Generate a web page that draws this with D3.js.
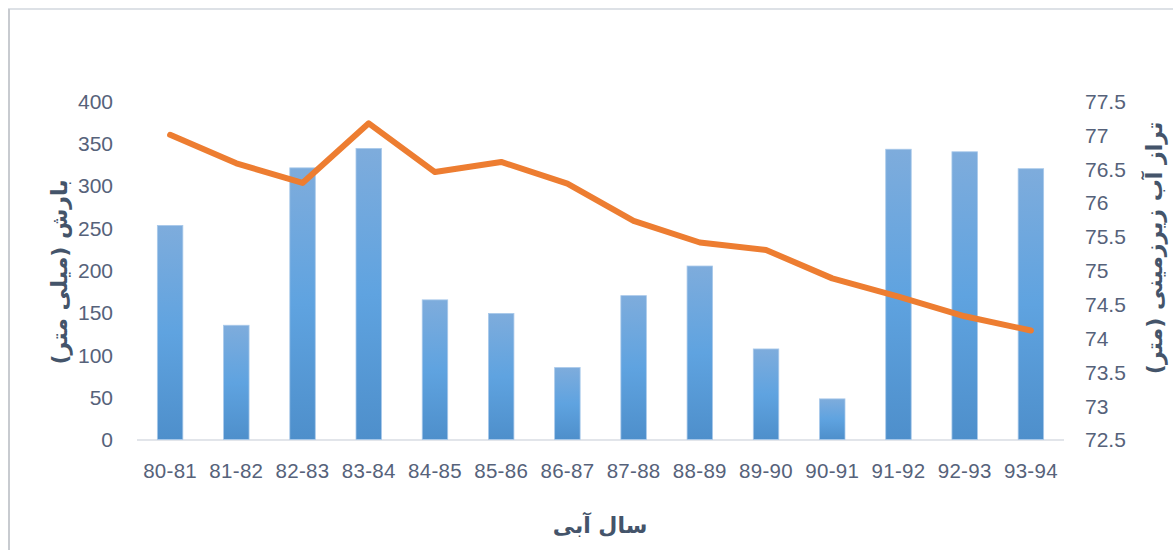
<!DOCTYPE html>
<html><head><meta charset="utf-8">
<script src="https://cdn.jsdelivr.net/npm/d3@7"></script>
<style>html,body{margin:0;padding:0;background:#fff;}svg{display:block;}</style>
</head><body>
<svg id="c" width="1173" height="550"></svg>
<script>
const categories = ["80-81","81-82","82-83","83-84","84-85","85-86","86-87","87-88","88-89","89-90","90-91","91-92","92-93","93-94"];
const rainfall = [253,135,321,344,165,149,85,170,205,107,48,343,340,320];
const groundwater = [77.0,76.58,76.29,77.17,76.45,76.60,76.28,75.73,75.41,75.30,74.88,74.61,74.32,74.11];
const leftTicks = [0,50,100,150,200,250,300,350,400];
const rightTicks = [72.5,73,73.5,74,74.5,75,75.5,76,76.5,77,77.5];
const leftTitle = "بارش (میلی متر)";
const rightTitle = "تراز آب زیرزمینی (متر)";
const xTitle = "سال آبی";

const svg = d3.select("#c");
const tickColor = "#56627a", titleColor = "#44546a";
const tickFont = "'Liberation Sans', Arial, sans-serif";

// frame
svg.append("rect").attr("x",9).attr("y",9).attr("width",1170).attr("height",560)
  .attr("fill","none").attr("stroke","#dde1e6").attr("stroke-width",2);
svg.append("line").attr("x1",9).attr("x2",9).attr("y1",9).attr("y2",550).attr("stroke","#c8cbd0").attr("stroke-width",2);

const x = d3.scaleBand().domain(categories).range([137,1064]).paddingInner(0.615).paddingOuter(0.3075);
const yL = d3.scaleLinear().domain([0,400]).range([439.5,101]);
const yR = d3.scaleLinear().domain([72.5,77.5]).range([439.5,101]);

const defs = svg.append("defs");
const g = defs.append("linearGradient").attr("id","bg").attr("x1",0).attr("y1",0).attr("x2",0).attr("y2",1);
g.append("stop").attr("offset","0%").attr("stop-color","#7eacdc");
g.append("stop").attr("offset","50%").attr("stop-color","#5fa3e0");
g.append("stop").attr("offset","100%").attr("stop-color","#4e8fcb");

// baseline
svg.append("line").attr("x1",137).attr("x2",1064).attr("y1",440).attr("y2",440)
  .attr("stroke","#d9dde3").attr("stroke-width",1.5);

// bars
svg.append("g").selectAll("rect").data(rainfall).join("rect")
  .attr("x",(d,i)=>x(categories[i]))
  .attr("width",x.bandwidth())
  .attr("y",d=>yL(d))
  .attr("height",d=>yL(0)-yL(d))
  .attr("fill","url(#bg)")
  .attr("stroke","#a9c9ea").attr("stroke-width",0.8);

// line
const line = d3.line().x((d,i)=>x(categories[i])+x.bandwidth()/2).y(d=>yR(d));
svg.append("path").datum(groundwater).attr("d",line)
  .attr("fill","none").attr("stroke","#ed7d31").attr("stroke-width",6)
  .attr("stroke-linejoin","round").attr("stroke-linecap","round");

// left axis
const axL = d3.axisLeft(yL).tickValues(leftTicks).tickSize(0).tickPadding(0);
const gl = svg.append("g").attr("transform","translate(113,0)").call(axL);
gl.select(".domain").remove();
gl.selectAll("text").attr("fill",tickColor).style("font-family",tickFont).style("font-size","21px").attr("dy","0.35em");

// right axis
const axR = d3.axisRight(yR).tickValues(rightTicks).tickSize(0).tickPadding(0).tickFormat(d=>String(d));
const gr = svg.append("g").attr("transform","translate(1085,0)").call(axR);
gr.select(".domain").remove();
gr.selectAll("text").attr("fill",tickColor).style("font-family",tickFont).style("font-size","21px").attr("dy","0.35em");

// x axis
const axX = d3.axisBottom(x).tickSize(0).tickPadding(0);
const gx = svg.append("g").attr("transform","translate(0,471)").call(axX);
gx.select(".domain").remove();
gx.selectAll("text").attr("fill",tickColor).style("font-family",tickFont).style("font-size","20.5px")
  .style("letter-spacing","0.3px").attr("dy","0.35em");

// titles
const titleFont = "'DejaVu Sans', 'Noto Sans', sans-serif";
svg.append("text").attr("transform","translate(67,272) rotate(-90)")
  .attr("text-anchor","middle").attr("direction","rtl")
  .attr("fill",titleColor).style("font-family",titleFont).style("font-size","22px").style("font-weight","bold")
  .text(leftTitle);
svg.append("text").attr("transform","translate(1162,248) rotate(-90)")
  .attr("text-anchor","middle").attr("direction","rtl")
  .attr("fill",titleColor).style("font-family",titleFont).style("font-size","22px").style("font-weight","bold")
  .text(rightTitle);
svg.append("text").attr("x",600).attr("y",533)
  .attr("text-anchor","middle").attr("direction","rtl")
  .attr("fill",titleColor).style("font-family",titleFont).style("font-size","22px").style("font-weight","bold")
  .text(xTitle);
</script>
</body></html>
